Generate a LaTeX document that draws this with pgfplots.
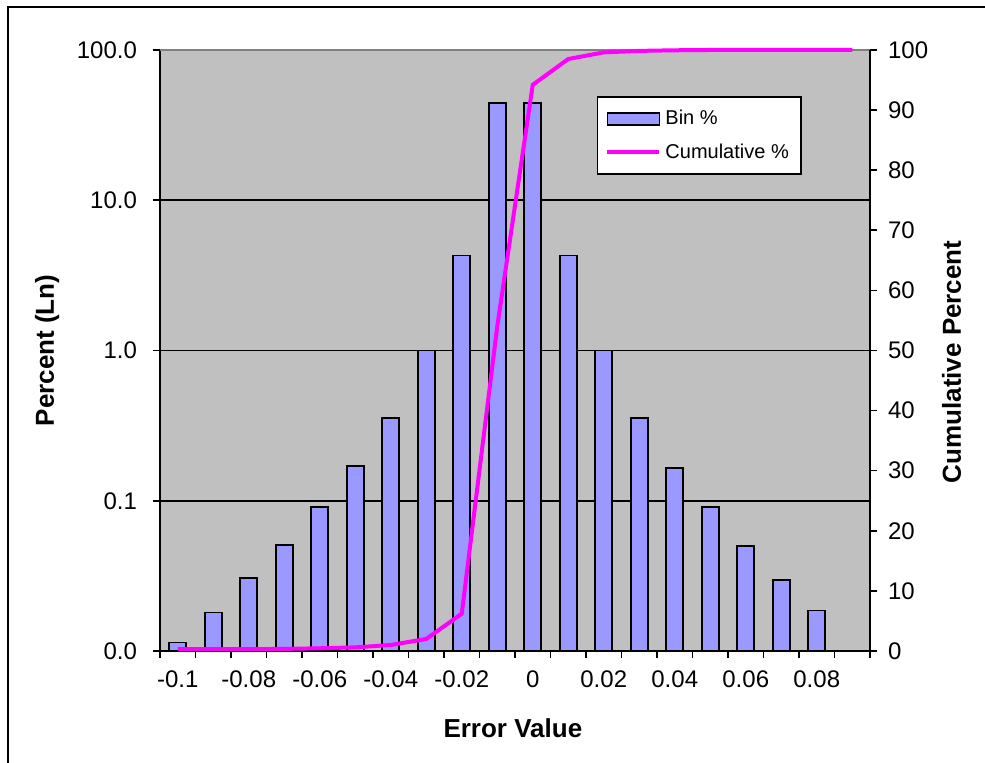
\documentclass[border=0pt]{standalone}
\usepackage{fontspec}
\setmainfont{Liberation Sans}
\usepackage{pgfplots}
\pgfplotsset{compat=1.18}

\definecolor{binblue}{RGB}{153,153,255}
\definecolor{plotgray}{RGB}{192,192,192}
\definecolor{edgegray}{RGB}{128,128,128}
\definecolor{cummag}{RGB}{255,0,255}

\begin{document}
\begin{tikzpicture}
\useasboundingbox (-80pt,-56pt) rectangle (412.5pt,325.5pt);

% bins, log scale
\begin{axis}[
    width=355pt, height=300.5pt, scale only axis,
    ymode=log, log origin=infty,
    ymin=0.01, ymax=100,
    xmin=-0.5, xmax=19.5,
    axis x line*=bottom, axis y line*=left,
    axis line style={black, line width=1pt},
    axis background/.style={fill=plotgray},
    tick align=outside,
    tick style={black, line width=0.8pt},
    ytick={0.01,0.1,1,10,100},
    yticklabels={0.0,0.1,1.0,10.0,100.0},
    yminorticks=false,
    major tick length=3.5pt,
    extra y ticks={0.1,1,10},
    extra y tick labels={},
    extra y tick style={grid=major, major tick length=0pt},
    major grid style={black, line width=0.8pt},
    xtick={0,2,...,18},
    xticklabels={-0.1,-0.08,-0.06,-0.04,-0.02,0,0.02,0.04,0.06,0.08},
    minor xtick={-0.5,0.5,...,19.5},
    minor tick length=3.5pt,
    major x tick style={draw=none},
    ticklabel style={font=\fontsize{12}{14}\selectfont},
    xticklabel style={yshift=-3pt},
    yticklabel style={xshift=-4.5pt},
    xlabel={Error Value},
    ylabel={Percent (Ln)},
    label style={font=\bfseries\fontsize{13}{15}\selectfont},
    xlabel style={at={(axis description cs:0.497,-0.128)}, anchor=center},
    ylabel style={at={(axis description cs:-0.159,0.5)}, anchor=center},
]
\addplot[ybar, bar width=0.48, fill=binblue, draw=black, line width=0.8pt]
coordinates {
    (0,0.0114) (1,0.018) (2,0.0307) (3,0.0509) (4,0.0912)
    (5,0.171) (6,0.357) (7,1.0) (8,4.30) (9,44.3)
    (10,44.3) (11,4.30) (12,1.0) (13,0.357) (14,0.165)
    (15,0.091) (16,0.050) (17,0.0297) (18,0.0186)
};
\draw[edgegray, line width=1pt] (rel axis cs:0,1) -- (rel axis cs:1,1);
\end{axis}

% cumulative, linear right axis
\begin{axis}[
    width=355pt, height=300.5pt, scale only axis,
    ymin=0, ymax=100,
    xmin=-0.5, xmax=19.5,
    hide x axis,
    axis y line*=right,
    axis line style={black, line width=1pt},
    tick align=outside,
    tick style={black, line width=0.8pt},
    major tick length=3.5pt,
    ytick={0,10,...,100},
    /pgf/number format/assume math mode=true,
    ticklabel style={font=\fontsize{12}{14}\selectfont},
    yticklabel style={xshift=2pt},
    ylabel={Cumulative Percent},
    ylabel style={font=\bfseries\fontsize{13}{15}\selectfont,
        at={(axis description cs:1.115,0.481)}, anchor=center},
    clip=false,
    legend style={at={(0.615,0.923)}, anchor=north west,
        draw=black, line width=0.8pt, fill=white,
        font=\fontsize{10}{12}\selectfont,
        inner xsep=4pt, inner ysep=4.5pt, row sep=4pt},
    legend cell align=left,
]
\addlegendimage{legend image code/.code={
    \draw[draw=black, fill=binblue, line width=0.8pt] (0pt,-3pt) rectangle (26pt,3pt);}}
\addlegendentry{Bin \%}
\addplot[cummag, line width=2pt, mark=none,
    legend image code/.code={\draw[cummag, line width=2pt] (0pt,0pt) -- (26pt,0pt);}]
coordinates {
    (0,0.3) (1,0.3) (2,0.3) (3,0.35) (4,0.45)
    (5,0.6) (6,1.0) (7,2.0) (8,6.2) (9,54)
    (10,94.2) (11,98.5) (12,99.6) (13,99.85) (14,99.95)
    (15,100) (16,100) (17,100) (18,100) (19,100)
};
\addlegendentry{Cumulative \%}
\end{axis}

\draw[black, line width=1.2pt] (-76pt,-70pt) -- (-76pt,322pt) -- (430pt,322pt);
\end{tikzpicture}
\end{document}
